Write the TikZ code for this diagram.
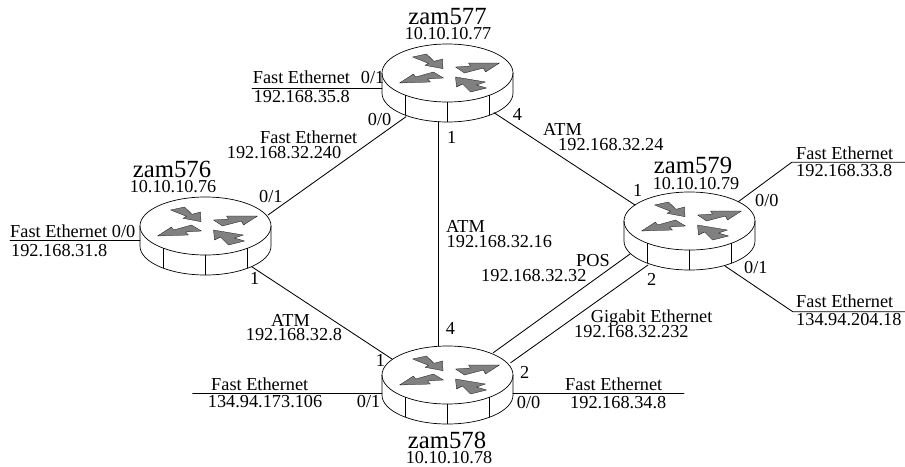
\documentclass[tikz,border=0pt]{standalone}
\usepackage{fontspec}
\setmainfont{Liberation Serif}
\tikzset{
  net/.style={line width=0.85pt,line cap=round},
  thin line/.style={line width=0.7pt},
  arrowshape/.style={fill=black!50,draw=black,line width=0.25pt,line join=round},
  lab/.style={anchor=base west,inner sep=0pt,font=\fontsize{18.3}{18.3}\selectfont},
  nm/.style={anchor=base,inner sep=0pt,font=\fontsize{24.7}{24.7}\selectfont},
  addr/.style={anchor=base,inner sep=0pt,font=\fontsize{18.2}{18.2}\selectfont},
  router/.pic={
    \coordinate (-c) at (0,0);
    \draw[thin line] (0,0) ellipse [x radius=65.5,y radius=29];
    \draw[thin line] (-65.5,0) -- (-65.5,20) arc[start angle=180,end angle=0,x radius=65.5,y radius=29] -- (65.5,0);
    \foreach \xx/\yy in {-42/22,0/29,42/22}
      \draw[thin line] (\xx,\yy) -- (\xx,\yy+20);
    \path[arrowshape] (-35,-16) -- (-21,-19) -- (-13.5,-11.7) -- (-5,-14) -- (-4.5,-4.3) -- (-22.5,-7.7) -- (-19,-9.7) -- cycle;
    \path[arrowshape] (52,-10) -- (38,-1) -- (36,-5) -- (17,0) -- (8,-6) -- (23,-7) -- (21,-10) -- cycle;
    \path[arrowshape] (-48,10) -- (-34,1) -- (-32,4) -- (-14,-1) -- (-4,5) -- (-20,6) -- (-17,9) -- cycle;
    \path[arrowshape] (8,4) -- (20,6) -- (38,9) -- (29,12) -- (39,15) -- (23,19) -- (15,11) -- (9,14) -- cycle;
  }
}
\begin{document}
\begin{tikzpicture}[x=1pt,y=-1pt]
\useasboundingbox (0,0) rectangle (905,466);
% routers
\pic (r577) at (447.5,73) {router};
\pic (r576) at (205.5,226) {router};
\pic (r578) at (447.5,375) {router};
\pic (r579) at (689.5,221) {router};
% connector ends
\coordinate (a1) at (406,116.7);  \coordinate (a2) at (268,215);
\coordinate (b1) at (494,112.7);  \coordinate (b2) at (635,205);
\coordinate (c1) at (438.3,121.7);\coordinate (c2) at (438.3,346);
\coordinate (d1) at (251.7,266.7);\coordinate (d2) at (392,359);
\coordinate (e1) at (630,254);    \coordinate (e2) at (493.3,352.7);
\coordinate (f1) at (648,265);    \coordinate (f2) at (510.7,362.7);
\coordinate (g1) at (252,88);     \coordinate (g2) at (382,88);
\coordinate (h1) at (10,240);     \coordinate (h2) at (140,240);
\coordinate (i1) at (192.7,393);  \coordinate (i2) at (382,393);
\coordinate (j1) at (513,393.3);  \coordinate (j2) at (684,393.3);
\coordinate (k1) at (738.3,201.7);\coordinate (k2) at (791.7,162.3); \coordinate (k3) at (905,162.3);
\coordinate (l1) at (725,266);    \coordinate (l2) at (792.7,311.7); \coordinate (l3) at (905,311.7);
\draw[net] (a1) -- (a2);
\draw[net] (b1) -- (b2);
\draw[net] (c1) -- (c2);
\draw[net] (d1) -- (d2);
\draw[net] (e1) -- (e2);
\draw[net] (f1) -- (f2);
\draw[net] (g1) -- (g2);
\draw[net] (h1) -- (h2);
\draw[net] (i1) -- (i2);
\draw[net] (j1) -- (j2);
\draw[net] (k1) -- (k2) -- (k3);
\draw[net] (l1) -- (l2) -- (l3);
% router names
\node[nm] (n577) at (447.5,24) {zam577};
\node[addr] (ip577) at (448,39) {10.10.10.77};
\node[nm] (n576) at (172,177) {zam576};
\node[addr] (ip576) at (173,192) {10.10.10.76};
\node[nm] (n578) at (447,448) {zam578};
\node[addr] (ip578) at (449,463) {10.10.10.78};
\node[nm] (n579) at (693,173) {zam579};
\node[addr] (ip579) at (696,189) {10.10.10.79};
% labels
\node[lab] (t1) at (252.7,83) {Fast Ethernet};
\node[lab] (t2) at (360.7,83) {0/1};
\node[lab] (t3) at (253.5,102.7) {192.168.35.8};
\node[lab] (t4) at (367.7,125) {0/0};
\node[lab] (t5) at (260,143) {Fast Ethernet};
\node[lab] (t6) at (226.7,158) {192.168.32.240};
\node[lab] (t7) at (512.7,120.7) {4};
\node[lab] (t8) at (447,143) {1};
\node[lab] (t9) at (543,135) {ATM};
\node[lab] (t10) at (558,150.7) {192.168.32.24};
\node[lab] (t11) at (446,232.7) {ATM};
\node[lab] (t12) at (446.5,247) {192.168.32.16};
\node[lab] (t13) at (633,196) {1};
\node[lab] (t14) at (576,266.7) {POS};
\node[lab] (t15) at (481,281.7) {192.168.32.32};
\node[lab] (t16) at (647,285) {2};
\node[lab] (t17) at (590.7,322.7) {Gigabit Ethernet};
\node[lab] (t18) at (574,337.7) {192.168.32.232};
\node[lab] (t19) at (10,237) {Fast Ethernet 0/0};
\node[lab] (t20) at (11,256) {192.168.31.8};
\node[lab] (t21) at (259,202.7) {0/1};
\node[lab] (t22) at (250,284) {1};
\node[lab] (t23) at (271,326) {ATM};
\node[lab] (t24) at (245.7,340.7) {192.168.32.8};
\node[lab] (t25) at (445.7,334) {4};
\node[lab] (t26) at (375.7,366.7) {1};
\node[lab] (t27) at (520,378.5) {2};
\node[lab] (t28) at (211,390) {Fast Ethernet};
\node[lab] (t29) at (207.7,407.7) {134.94.173.106};
\node[lab] (t30) at (356.7,407.7) {0/1};
\node[lab] (t31) at (516.7,408) {0/0};
\node[lab] (t32) at (565,390) {Fast Ethernet};
\node[lab] (t33) at (570,408) {192.168.34.8};
\node[lab] (t34) at (755,206.7) {0/0};
\node[lab] (t35) at (744,273) {0/1};
\node[lab] (t36) at (796,159.3) {Fast Ethernet};
\node[lab] (t37) at (796,176.7) {192.168.33.8};
\node[lab] (t38) at (796,307.7) {Fast Ethernet};
\node[lab] (t39) at (796,325) {134.94.204.18};
\end{tikzpicture}
\end{document}
